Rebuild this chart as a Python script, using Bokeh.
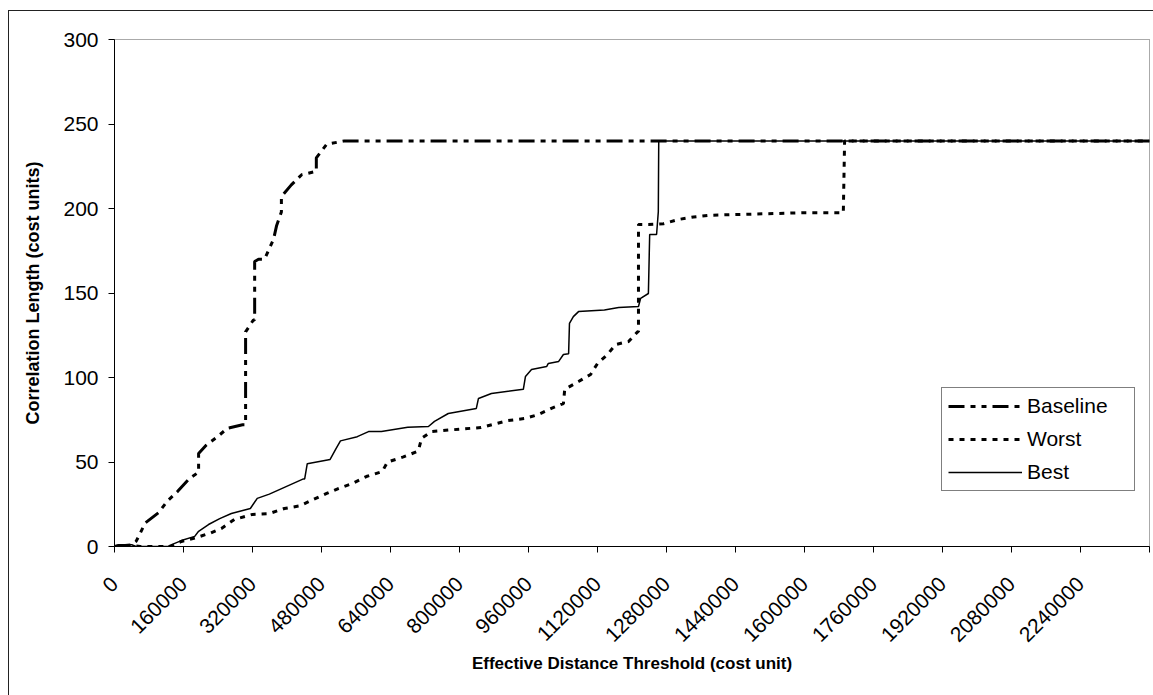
import math
from bokeh.plotting import figure
from bokeh.models import FixedTicker, Range1d, BasicTickFormatter
from bokeh.embed import file_html
from bokeh.resources import INLINE

# ---- data ----
baseline_x = [0, 40000, 50000, 58000, 70700, 102000, 123000, 146000, 173000, 195000, 195000,
              213000, 239000, 262000, 297000, 304000, 304000, 322000, 325000, 325000, 334000,
              348000, 369000, 376000, 387000, 387000, 410000, 434000, 468000, 468000, 492000,
              533000, 2400000]
baseline_y = [0, 1, 3, 7, 13.8, 20, 27, 32.5, 40, 44, 55,
              60, 65, 70, 72, 72, 127, 134, 134, 168.6, 170,
              170, 182, 190, 198, 207, 214, 220, 222, 230, 238,
              240, 240]

worst_x = [0, 10000, 40000, 60000, 130000, 155000, 186000, 223000, 248000, 278000, 320000,
           359000, 394000, 429000, 461000, 492000, 519000, 549000, 584000, 621000, 633000,
           670000, 700000, 705000, 712000, 735000, 780000, 850000, 912000, 950000, 982000,
           1013000, 1041000, 1044000, 1076000, 1104000, 1120000, 1143000, 1162000, 1192000,
           1213000, 1215000, 1215000, 1238000, 1273000, 1308000, 1343000, 1378000, 1600000,
           1690000, 1693000, 2400000]
worst_y = [0, 0.5, 0.5, 0, 0, 3, 5, 8, 10.7, 16, 19,
           19.5, 22.5, 24, 27.8, 31.4, 34.3, 37, 41.4, 44.4, 50,
           53, 56, 57, 64, 68, 69, 70.4, 74.5, 75.7, 78,
           81.7, 84.6, 93, 97.6, 101.8, 108.3, 113.6, 119.5, 121.3,
           127, 127, 190.5, 190.5, 191, 193.5, 195, 196, 197.5,
           197.5, 240, 240]

best_x = [0, 10000, 40000, 50000, 125000, 127000, 155000, 186000, 195000, 218000, 244000,
          271000, 315000, 331000, 359000, 394000, 438000, 441000, 447000, 500000, 514000,
          524000, 563000, 589000, 619000, 680000, 728000, 742000, 774000, 839000, 844000,
          874000, 948000, 953000, 967000, 1002000, 1006000, 1030000, 1041000, 1053000,
          1055000, 1064000, 1076000, 1136000, 1169000, 1215000, 1220000, 1238000, 1241000,
          1257000, 1261000, 1262000, 2400000]
best_y = [0, 1, 1, 0, 0, 0.5, 3.5, 6, 9, 13, 16.5,
          19.5, 22.5, 28.5, 31, 35, 40, 40, 49, 51.5, 58,
          62.5, 65, 68, 68, 70.5, 71, 74, 78.7, 81.7, 87.6,
          90.5, 93, 100.6, 104.7, 106.5, 108.3, 109.5, 113.6, 114,
          132, 136, 139, 140, 141.4, 142, 146.8, 149.7, 184.6,
          184.6, 198, 240, 240]

x_ticks = [i * 160000 for i in range(16)]
y_ticks = [0, 50, 100, 150, 200, 250, 300]

FONT = "Liberation Sans"

p = figure(width=1145, height=685, output_backend="svg", toolbar_location=None,
           x_range=Range1d(0, 2400000), y_range=Range1d(0, 300),
           min_border_left=105, min_border_right=5, min_border_top=28, min_border_bottom=150)
p.styles = {"border-left": "1px solid #222", "border-top": "1px solid #222"}
p.margin = (10, 0, 0, 8)

p.line(baseline_x, baseline_y, line_color="black", line_width=3,
       line_dash="16 6 5 6 5 6", legend_label="Baseline")
p.line(worst_x, worst_y, line_color="black", line_width=3,
       line_dash="5 6", legend_label="Worst")
p.line(best_x, best_y, line_color="black", line_width=1.5, legend_label="Best")

p.xgrid.visible = False
p.ygrid.visible = False
p.outline_line_color = "#555555"
p.outline_line_dash = "1 1"
p.outline_line_width = 1

xa = p.xaxis[0]
xa.ticker = FixedTicker(ticks=x_ticks)
xa.formatter = BasicTickFormatter(use_scientific=False)
xa.major_label_overrides = {2400000: ""}
xa.major_label_orientation = math.pi / 4
xa.minor_tick_line_color = None
xa.major_tick_in = 0
xa.major_tick_out = 6
xa.major_label_standoff = 28
xa.major_label_text_font = FONT
xa.major_label_text_font_size = "21px"
xa.major_label_text_color = "black"
xa.axis_label = "Effective Distance Threshold (cost unit)"
xa.axis_label_text_font = FONT
xa.axis_label_text_font_style = "bold"
xa.axis_label_text_font_size = "17px"
xa.axis_label_text_color = "black"
xa.axis_label_standoff = 3
xa.axis_line_color = "black"

ya = p.yaxis[0]
ya.ticker = FixedTicker(ticks=y_ticks)
ya.minor_tick_line_color = None
ya.major_tick_in = 0
ya.major_tick_out = 6
ya.major_label_text_font = FONT
ya.major_label_text_font_size = "21px"
ya.major_label_text_color = "black"
ya.major_label_standoff = 10
ya.axis_label = "Correlation Length (cost units)"
ya.axis_label_text_font = FONT
ya.axis_label_text_font_style = "bold"
ya.axis_label_text_font_size = "18px"
ya.axis_label_text_color = "black"
ya.axis_label_standoff = 17
ya.axis_line_color = "black"

lg = p.legend[0]
lg.location = (827, 55)
lg.border_line_color = "black"
lg.border_line_width = 1
lg.background_fill_color = "white"
lg.background_fill_alpha = 1
lg.padding = 6
lg.spacing = 9
lg.margin = 0
lg.glyph_width = 74
lg.glyph_height = 24
lg.label_height = 24
lg.label_width = 101
lg.label_standoff = 5
lg.label_text_font = FONT
lg.label_text_font_size = "21px"
lg.label_text_color = "black"

open("out.html", "w").write(file_html(p, INLINE))
